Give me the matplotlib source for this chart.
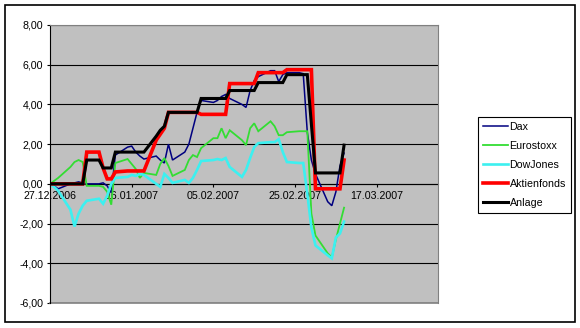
import pandas as pd
import matplotlib
matplotlib.use('Agg')
import matplotlib.pyplot as plt
import matplotlib.dates as mdates
from matplotlib.patches import Rectangle

plt.rcParams['font.family'] = ['Liberation Sans', 'DejaVu Sans']
plt.rcParams['font.size'] = 7.7

# Handelstage
dates = [
    '27.12.2006', '28.12.2006', '29.12.2006',
    '01.01.2007', '02.01.2007', '03.01.2007', '04.01.2007', '05.01.2007',
    '08.01.2007', '09.01.2007', '10.01.2007', '11.01.2007', '12.01.2007',
    '15.01.2007', '16.01.2007', '17.01.2007', '18.01.2007', '19.01.2007',
    '22.01.2007', '23.01.2007', '24.01.2007', '25.01.2007', '26.01.2007',
    '29.01.2007', '30.01.2007', '31.01.2007', '01.02.2007', '02.02.2007',
    '05.02.2007', '06.02.2007', '07.02.2007', '08.02.2007', '09.02.2007',
    '12.02.2007', '13.02.2007', '14.02.2007', '15.02.2007', '16.02.2007',
    '19.02.2007', '20.02.2007', '21.02.2007', '22.02.2007', '23.02.2007',
    '26.02.2007', '27.02.2007', '28.02.2007', '01.03.2007', '02.03.2007',
    '05.03.2007', '06.03.2007', '07.03.2007', '08.03.2007', '09.03.2007',
]

dax = [0, -0.1, -0.25, 0.0, 0.05, 0.1, 0.05, 0.0, 0.0, 0.05,
       -0.1, -0.45, 1.45, 1.85, 1.9, 1.6, 1.4, 1.25, 1.4, 1.2,
       1.05, 2.0, 1.2, 1.6, 2.0, 2.8, 3.6, 4.2, 4.1, 4.2,
       4.4, 4.5, 4.3, 4.0, 3.85, 4.7, 5.2, 5.4, 5.7, 5.7,
       5.15, 5.5, 5.6, 5.6, 5.55, 2.6, 1.2, 0.5, -0.9, -1.1,
       -0.4, 0.9, 1.55]
eurostoxx = [0, 0.15, 0.3, 0.85, 1.1, 1.2, 1.1, -0.1, -0.1, -0.15,
             -0.4, -1.05, 1.05, 1.25, 1.0, 0.75, 0.3, 0.55, 0.45, 1.0,
             1.3, 0.9, 0.4, 0.7, 1.2, 1.45, 1.35, 1.8, 2.3, 2.3,
             2.8, 2.3, 2.7, 2.2, 1.95, 2.8, 3.05, 2.65, 3.15, 2.9,
             2.45, 2.45, 2.6, 2.65, 2.65, 2.65, -1.5, -2.6, -3.5, -3.7,
             -2.8, -2.0, -1.2]
dowjones = [0, -0.15, -0.35, -1.3, -2.15, -1.5, -1.1, -0.85, -0.75, -1.0,
            -0.6, 0.0, 0.3, 0.35, 0.45, 0.4, 0.5, 0.45, 0.0, -0.15,
            0.5, 0.3, 0.05, 0.2, 0.05, 0.3, 0.7, 1.15, 1.2, 1.25,
            1.2, 1.3, 0.85, 0.35, 0.7, 1.3, 1.85, 2.05, 2.1, 2.1,
            2.25, 1.6, 1.1, 1.05, 1.05, -0.5, -2.2, -3.1, -3.6, -3.75,
            -2.7, -2.5, -1.9]
aktienfonds = [0, 0, 0, 0, 0, 0, 0, 1.6, 1.6, 0.8,
               0.25, 0.25, 0.6, 0.65, 0.65, 0.65, 0.65, 0.65, 2.2, 2.5,
               2.8, 3.6, 3.6, 3.6, 3.6, 3.6, 3.6, 3.5, 3.5, 3.5,
               3.5, 3.5, 5.05, 5.05, 5.05, 5.05, 5.05, 5.6, 5.6, 5.6,
               5.6, 5.6, 5.75, 5.75, 5.75, 5.75, 5.75, -0.25, -0.25, -0.25,
               -0.25, -0.25, 1.2]
anlage = [0, 0, 0, 0, 0, 0, 0, 1.2, 1.2, 0.8,
          0.8, 0.8, 1.6, 1.6, 1.6, 1.6, 1.6, 1.6, 2.4, 2.7,
          2.9, 3.6, 3.6, 3.6, 3.6, 3.6, 3.6, 4.3, 4.3, 4.3,
          4.3, 4.3, 4.7, 4.7, 4.7, 4.7, 4.7, 5.1, 5.1, 5.1,
          5.1, 5.1, 5.5, 5.5, 5.5, 5.5, 3.0, 0.55, 0.55, 0.55,
          0.55, 0.55, 1.95]

series = [
    ('Dax', dax, '#000080', 1.1),
    ('Eurostoxx', eurostoxx, '#33DD33', 1.3),
    ('DowJones', dowjones, '#3CF0F0', 1.9),
    ('Aktienfonds', aktienfonds, '#FF0000', 2.6),
    ('Anlage', anlage, '#000000', 2.2),
]

x = pd.to_datetime(dates, format='%d.%m.%Y')
start = pd.Timestamp('2006-12-27')

fig = plt.figure(figsize=(5.8, 3.28), dpi=100)
ax = fig.add_axes([50 / 580, 25 / 328, 388 / 580, 278 / 328])
ax.set_facecolor('#C0C0C0')

lines = []
for name, vals, col, lw in series:
    ln, = ax.plot(x, vals, color=col, lw=lw, label=name, solid_joinstyle='miter')
    lines.append(ln)

ax.set_ylim(-6, 8)
ax.set_yticks(range(-6, 9, 2))
ax.set_yticklabels([f'{v:.2f}'.replace('.', ',') for v in range(-6, 9, 2)])
ax.yaxis.grid(True, color='black', lw=0.8)
ax.set_axisbelow(True)

ax.set_xlim(start, start + pd.Timedelta(days=95))
ax.set_xticks([start + pd.Timedelta(days=20 * k) for k in range(5)])
ax.xaxis.set_major_formatter(mdates.DateFormatter('%d.%m.%Y'))

ax.spines['bottom'].set_position(('data', 0))
ax.spines['bottom'].set_zorder(0.6)
ax.spines['left'].set_color('black')
for s in ['top', 'right']:
    ax.spines[s].set_color('#808080')
ax.axhline(-6, color='#808080', lw=1.2, clip_on=False)
ax.tick_params(axis='both', direction='out', length=2.5, width=0.8, colors='black')
ax.tick_params(axis='x', pad=3)
ax.tick_params(axis='y', pad=2.5)

leg = fig.legend(handles=lines, loc='upper left', bbox_to_anchor=(478 / 580, 1 - 117 / 328),
                 frameon=True, fancybox=False, edgecolor='black', framealpha=1,
                 handlelength=2.4, handletextpad=0.1, labelspacing=0.85,
                 borderpad=0.45, borderaxespad=0)
leg.get_frame().set_linewidth(0.8)

fig.patches.append(Rectangle((5 / 580, 6 / 328), 570 / 580, 317 / 328,
                             transform=fig.transFigure, fill=False,
                             ec='black', lw=1.2))

fig.savefig('out.png', dpi=100)
